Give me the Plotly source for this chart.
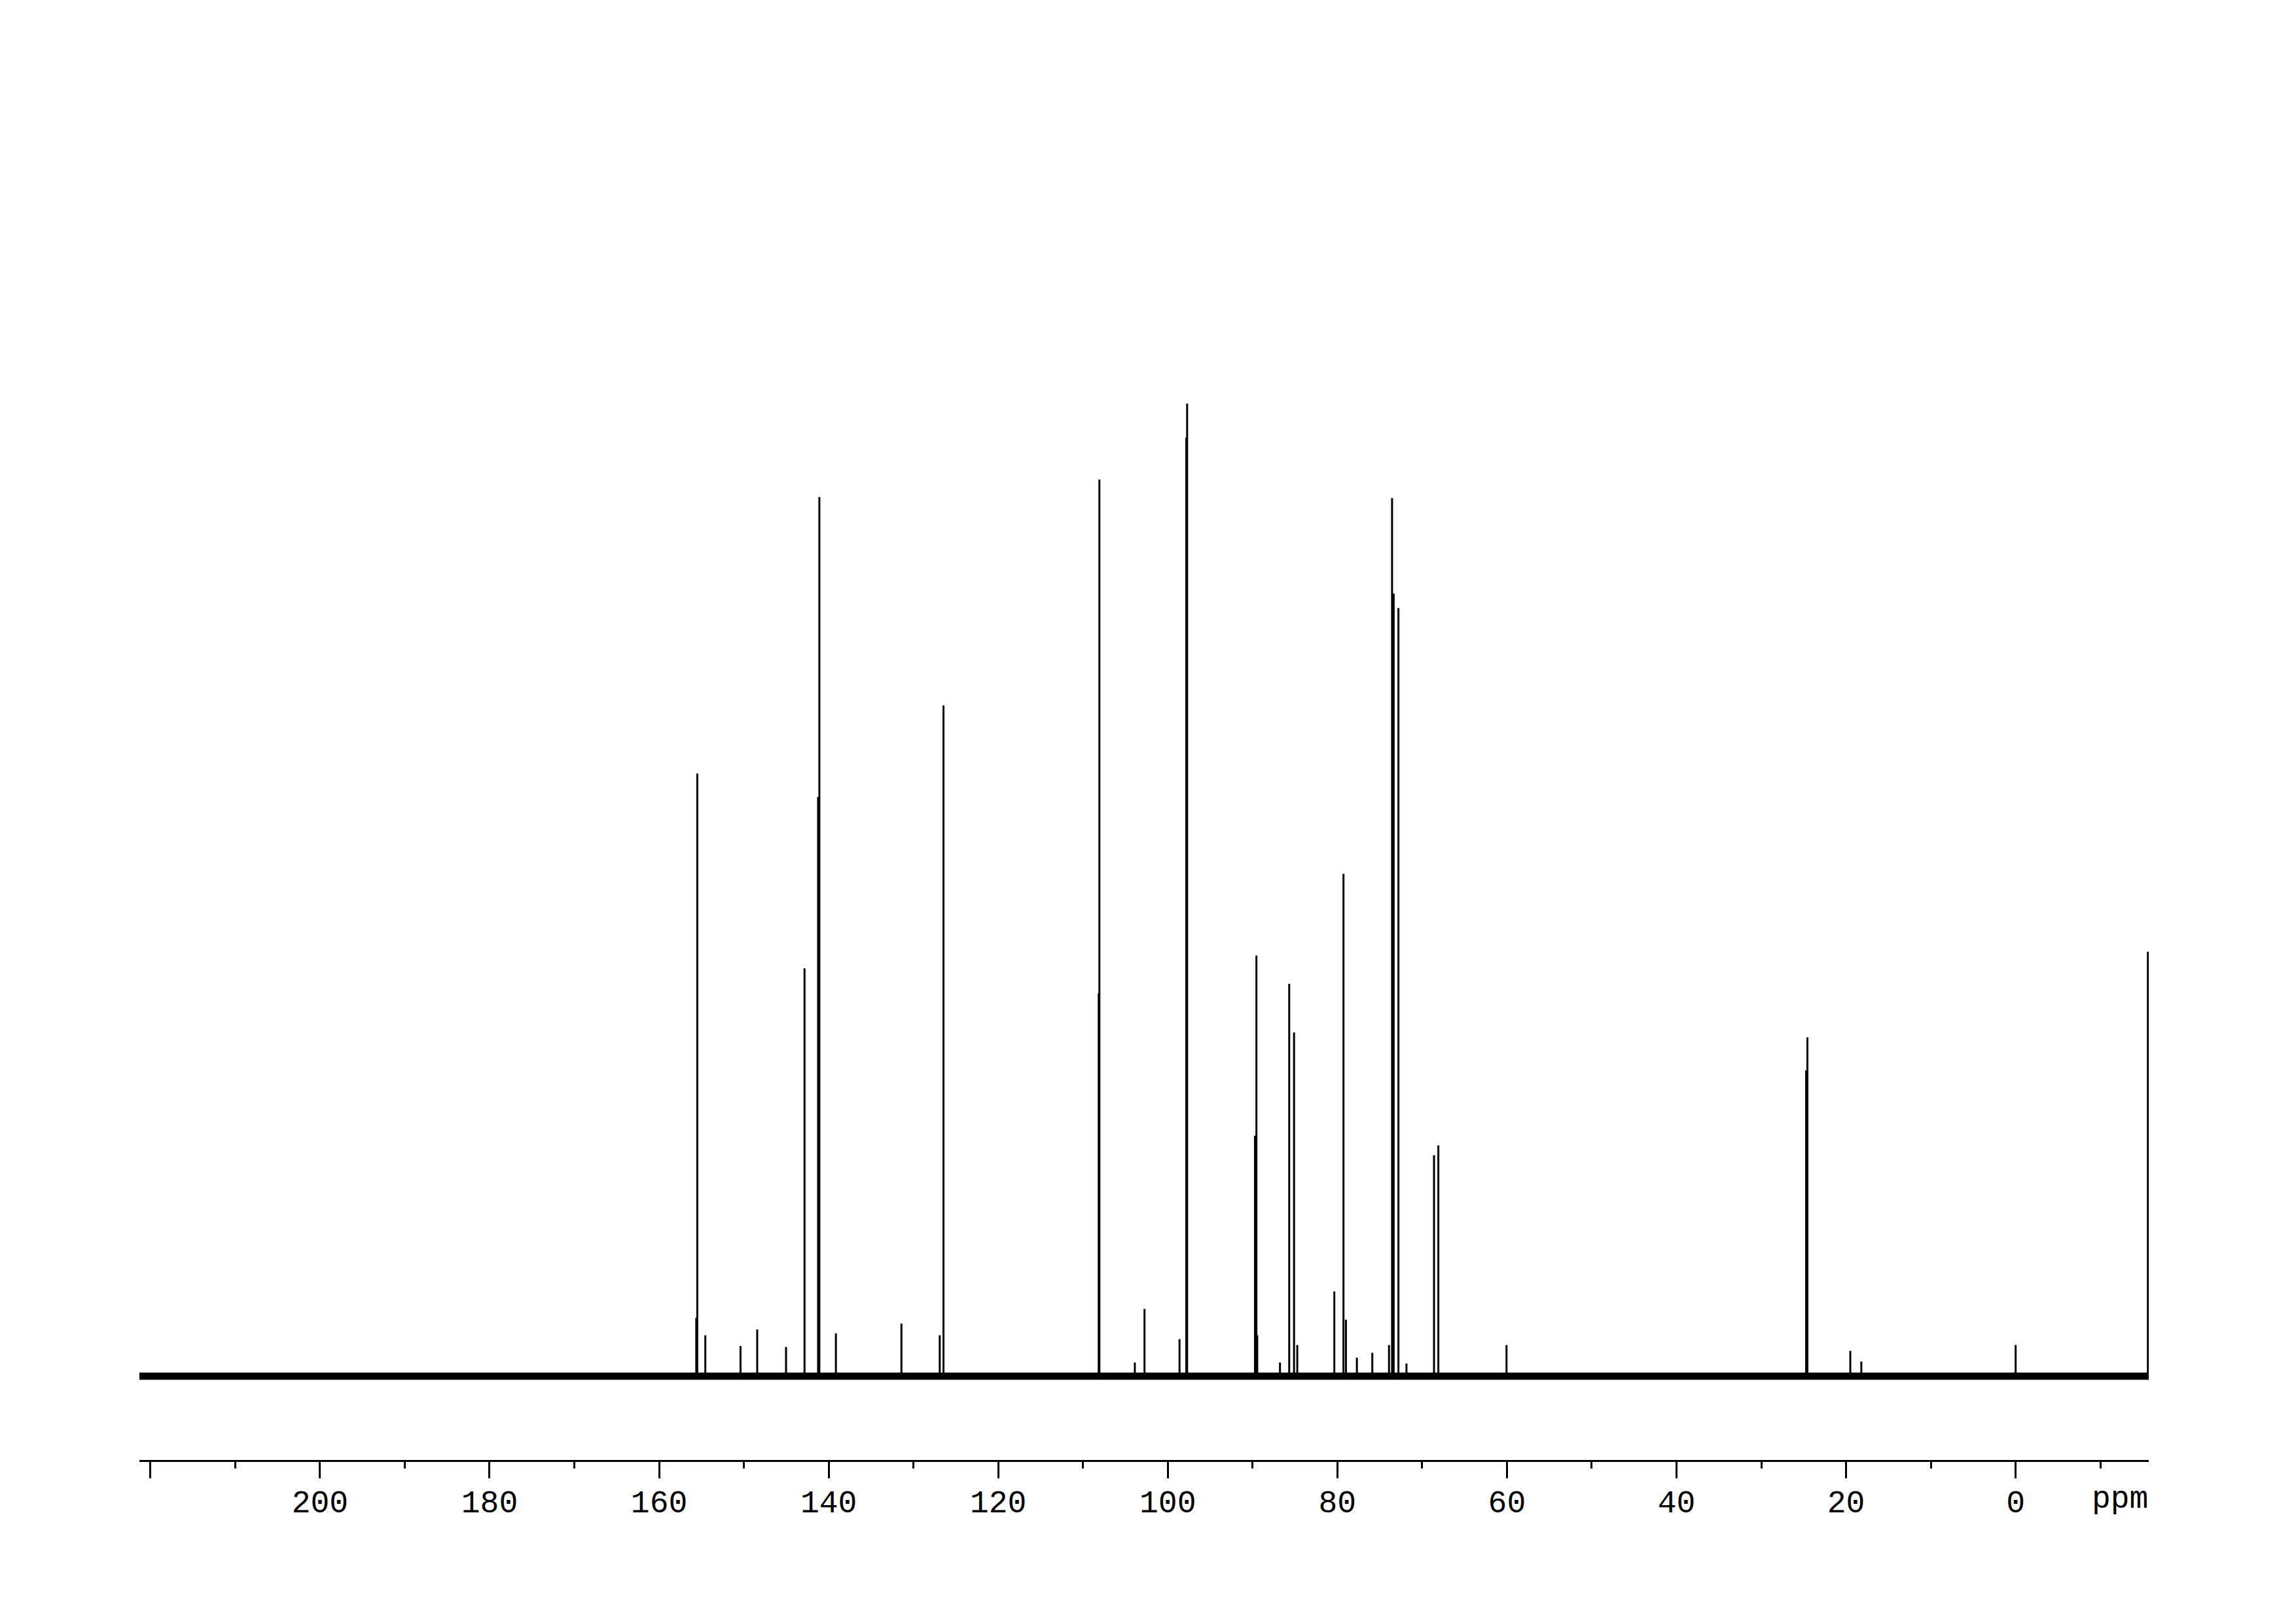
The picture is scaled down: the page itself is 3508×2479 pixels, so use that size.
import plotly.graph_objects as go

# Peak positions (ppm) and relative intensities (tallest = 1.0)
peak_ppm = [155.50, 155.62, 154.55, 150.40, 148.43, 145.03, 142.85, 141.25, 141.10,
            139.15, 131.42, 126.90, 126.46, 108.15, 108.07, 103.89, 102.75, 98.62,
            97.82, 97.72, 89.72, 89.55, 89.45, 86.77, 85.68, 85.11, 84.73, 80.36,
            79.28, 78.99, 77.70, 75.88, 73.91, 73.55, 73.36, 72.80, 71.85, 68.60,
            68.09, 60.05, 24.71, 24.56, 19.50, 18.20, 0.00, -15.60]
peak_int = [0.619, 0.060, 0.042, 0.031, 0.048, 0.030, 0.419, 0.595, 0.903,
            0.044, 0.054, 0.042, 0.689, 0.393, 0.921, 0.014, 0.069, 0.038,
            0.964, 0.999, 0.247, 0.432, 0.042, 0.014, 0.403, 0.353, 0.032, 0.087,
            0.516, 0.058, 0.019, 0.024, 0.032, 0.902, 0.804, 0.789, 0.013, 0.227,
            0.237, 0.032, 0.314, 0.348, 0.026, 0.015, 0.032, 0.436]

x_range = [221.3, -15.7]
major_ticks = [220, 200, 180, 160, 140, 120, 100, 80, 60, 40, 20, 0]
major_labels = ["", "200", "180", "160", "140", "120", "100", "80", "60", "40", "20", "0"]
minor_ticks = [210, 190, 170, 150, 130, 110, 90, 70, 50, 30, 10, -10]
unit_label = "ppm"

FONT = "Liberation Mono, DejaVu Sans Mono, monospace"

# build spectrum line from the peak lists
xs, ys = [], []
for p, h in zip(peak_ppm, peak_int):
    xs += [p, p, None]
    ys += [0, h, None]

fig = go.Figure()
# baseline (noise band)
fig.add_trace(go.Scatter(x=x_range, y=[0, 0], mode="lines",
                         line=dict(color="black", width=11), hoverinfo="skip"))
fig.add_trace(go.Scatter(x=xs, y=ys, mode="lines",
                         line=dict(color="black", width=3), hoverinfo="skip"))

fig.update_layout(
    width=3508, height=2479,
    margin=dict(l=205, r=233, t=392, b=257),
    paper_bgcolor="white", plot_bgcolor="white",
    showlegend=False,
    font=dict(family=FONT, size=48, color="black"),
    xaxis=dict(range=x_range, showgrid=False, zeroline=False,
               showline=True, linecolor="black", linewidth=3,
               ticks="outside", ticklen=25, tickwidth=3, tickcolor="black",
               tickvals=major_ticks, ticktext=major_labels,
               ticklabelstandoff=-6,
               tickfont=dict(family=FONT, size=48, color="black"),
               minor=dict(tickvals=minor_ticks, ticks="outside", ticklen=10, tickwidth=3,
                          tickcolor="black", showgrid=False)),
    yaxis=dict(range=[-0.0861, 1.1446], visible=False, showgrid=False, zeroline=False),
)
fig.add_annotation(x=-12.3, xref="x", y=0, yref="paper", yanchor="top", yshift=-31,
                   text=unit_label, showarrow=False,
                   font=dict(family=FONT, size=48, color="black"))

fig.write_html("out.html")
